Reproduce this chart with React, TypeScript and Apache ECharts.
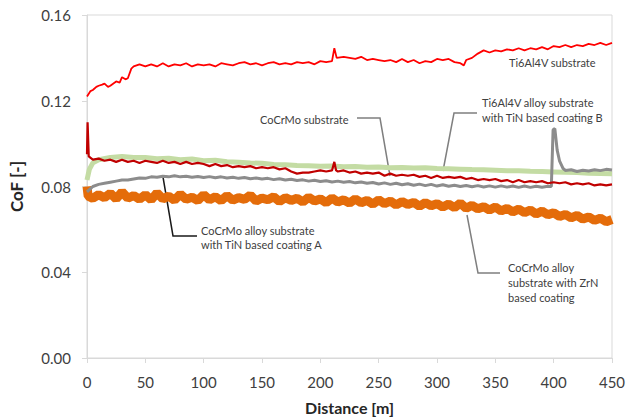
import React, { useEffect, useRef } from "react";
import * as echarts from "echarts";

// x tick labels (distance, m) and y tick labels (CoF)
const xTicks = [0, 50, 100, 150, 200, 250, 300, 350, 400, 450];
const yTicks = ["0.00", "0.04", "0.08", "0.12", "0.16"];

// [distance m, CoF]
const ti6al4vSubstrate: [number, number][] = [
  [0, 0.122], [3, 0.1245], [5, 0.125], [8, 0.1265], [10, 0.127], [13, 0.1275], [15, 0.128], [18, 0.1265], [20, 0.127], [25, 0.129], [28, 0.1285], [30, 0.131], [33, 0.13], [35, 0.1305],
  [38, 0.135], [40, 0.136], [45, 0.137], [50, 0.136], [55, 0.137], [60, 0.136], [65, 0.1375], [70, 0.136], [75, 0.137],
  [80, 0.1365], [85, 0.1375], [90, 0.136], [95, 0.137], [100, 0.1365], [105, 0.137], [110, 0.136], [115, 0.1375],
  [120, 0.137], [125, 0.1365], [130, 0.1375], [135, 0.138], [140, 0.137], [145, 0.1375], [150, 0.1365], [155, 0.1375],
  [160, 0.138], [165, 0.137], [170, 0.1375], [175, 0.137], [180, 0.138], [185, 0.1375], [190, 0.138], [195, 0.137],
  [200, 0.1385], [205, 0.138], [210, 0.1385], [212, 0.1445], [214, 0.14], [220, 0.1405], [225, 0.14], [230, 0.1395],
  [235, 0.1405], [240, 0.139], [245, 0.1395], [250, 0.139], [255, 0.1385], [260, 0.139], [265, 0.138], [270, 0.1395],
  [275, 0.138], [280, 0.139], [285, 0.1375], [290, 0.1385], [295, 0.138], [300, 0.1395], [305, 0.139], [310, 0.1395],
  [315, 0.138], [320, 0.1375], [323, 0.1365], [325, 0.139], [330, 0.14], [335, 0.142], [340, 0.1435], [345, 0.1425],
  [350, 0.1435], [355, 0.143], [360, 0.144], [365, 0.1435], [370, 0.1445], [375, 0.1435], [380, 0.1445], [385, 0.144],
  [390, 0.145], [395, 0.144], [400, 0.1455], [405, 0.145], [410, 0.146], [415, 0.145], [420, 0.146], [425, 0.1455],
  [430, 0.1465], [435, 0.146], [440, 0.147], [445, 0.146], [450, 0.147],
];

const cocrmoCoatingA: [number, number][] = [
  [0, 0.095], [0.5, 0.11], [1.5, 0.094], [5, 0.0925], [10, 0.093], [15, 0.092], [20, 0.0925], [25, 0.0915],
  [30, 0.0925], [35, 0.0915], [40, 0.092], [45, 0.091], [50, 0.092], [55, 0.0915], [60, 0.091], [65, 0.092],
  [70, 0.091], [75, 0.0915], [80, 0.0905], [85, 0.0915], [90, 0.0905], [95, 0.091], [100, 0.0905], [105, 0.0895],
  [110, 0.0905], [115, 0.0895], [120, 0.09], [125, 0.089], [130, 0.0895], [135, 0.089], [140, 0.0895], [145, 0.0885],
  [150, 0.089], [155, 0.0885], [160, 0.089], [165, 0.088], [170, 0.0885], [175, 0.087], [180, 0.086], [185, 0.0865],
  [190, 0.0865], [195, 0.087], [200, 0.0875], [205, 0.087], [210, 0.0875], [212, 0.0915], [213.5, 0.0875], [215, 0.087],
  [220, 0.0875], [225, 0.0865], [230, 0.087], [235, 0.086], [240, 0.0865], [245, 0.086], [250, 0.0865], [255, 0.085],
  [260, 0.086], [265, 0.085], [270, 0.0855], [275, 0.085], [280, 0.0855], [285, 0.0845], [290, 0.085], [295, 0.084],
  [300, 0.085], [305, 0.084], [310, 0.0845], [315, 0.084], [320, 0.0845], [325, 0.0835], [330, 0.084], [335, 0.083],
  [340, 0.0835], [345, 0.083], [350, 0.0835], [355, 0.0825], [360, 0.083], [365, 0.082], [370, 0.083], [375, 0.082],
  [380, 0.0825], [385, 0.082], [390, 0.0825], [395, 0.0815], [400, 0.082], [405, 0.0815], [410, 0.082], [415, 0.081],
  [420, 0.0815], [425, 0.081], [430, 0.0815], [435, 0.0805], [440, 0.081], [445, 0.0805], [450, 0.081],
];

const ti6al4vCoatingB: [number, number][] = [
  [0, 0.083], [2, 0.088], [5, 0.091], [10, 0.0925], [20, 0.0935], [30, 0.094], [40, 0.0935], [50, 0.0935],
  [60, 0.093], [70, 0.0932], [80, 0.0925], [90, 0.0928], [100, 0.092], [110, 0.0922], [120, 0.0915], [130, 0.0913],
  [140, 0.091], [150, 0.0908], [160, 0.0903], [170, 0.0902], [180, 0.0898], [190, 0.0897], [200, 0.0895], [210, 0.0896],
  [220, 0.0892], [230, 0.0893], [240, 0.089], [250, 0.0891], [260, 0.0888], [270, 0.0889], [280, 0.0886], [290, 0.0887],
  [300, 0.0884], [310, 0.0883], [320, 0.0881], [330, 0.0879], [340, 0.0878], [350, 0.0876], [360, 0.0874], [370, 0.0873],
  [380, 0.0871], [390, 0.087], [400, 0.0868], [410, 0.0866], [420, 0.0865], [430, 0.0862], [440, 0.0861], [450, 0.086],
];

const cocrmoSubstrate: [number, number][] = [
  [0, 0.0775], [3, 0.079], [5, 0.08], [10, 0.081], [15, 0.0815], [20, 0.082], [25, 0.0825], [30, 0.083],
  [35, 0.083], [40, 0.0835], [45, 0.084], [50, 0.0838], [55, 0.0845], [60, 0.0843], [65, 0.0848], [70, 0.0845],
  [75, 0.085], [80, 0.0845], [85, 0.0848], [90, 0.0843], [95, 0.0847], [100, 0.0842], [105, 0.0846], [110, 0.0841],
  [115, 0.0845], [120, 0.084], [125, 0.0843], [130, 0.0838], [135, 0.0842], [140, 0.0836], [145, 0.084], [150, 0.0835],
  [155, 0.0838], [160, 0.0832], [165, 0.0836], [170, 0.083], [175, 0.0834], [180, 0.0828], [185, 0.0831], [190, 0.0825],
  [195, 0.0829], [200, 0.0823], [205, 0.0827], [210, 0.0821], [215, 0.0825], [220, 0.082], [225, 0.0823], [230, 0.0817],
  [235, 0.0821], [240, 0.0815], [245, 0.0819], [250, 0.0812], [255, 0.0817], [260, 0.081], [265, 0.0815], [270, 0.0808],
  [275, 0.0813], [280, 0.0806], [285, 0.0811], [290, 0.0804], [295, 0.081], [300, 0.0802], [305, 0.0808], [310, 0.0801],
  [315, 0.0806], [320, 0.08], [325, 0.0805], [330, 0.0799], [335, 0.0804], [340, 0.0798], [345, 0.0803], [350, 0.0797],
  [355, 0.0803], [360, 0.0797], [365, 0.0802], [370, 0.0796], [375, 0.0802], [380, 0.0796], [385, 0.0801], [390, 0.0797],
  [395, 0.0801], [398, 0.08], [399.5, 0.1065], [401, 0.107], [403, 0.097], [405, 0.092], [408, 0.0885], [410, 0.0875],
  [415, 0.0878], [420, 0.087], [425, 0.0876], [430, 0.0872], [435, 0.0878], [440, 0.0874], [445, 0.088], [450, 0.0877],
];

const cocrmoZrN: [number, number][] = [
  [0, 0.08], [1, 0.0755], [5, 0.0745], [10, 0.0762], [15, 0.0748], [20, 0.0768], [25, 0.0742], [30, 0.0775],
  [35, 0.0745], [40, 0.0758], [45, 0.074], [50, 0.0762], [55, 0.0738], [60, 0.077], [65, 0.0742], [70, 0.0755],
  [75, 0.0736], [80, 0.0764], [85, 0.074], [90, 0.075], [95, 0.0735], [100, 0.0762], [105, 0.0738], [110, 0.0752],
  [115, 0.0734], [120, 0.0758], [125, 0.0736], [130, 0.0748], [135, 0.074], [140, 0.076], [145, 0.0732], [150, 0.0746],
  [155, 0.0738], [160, 0.0752], [165, 0.073], [170, 0.0748], [175, 0.0735], [180, 0.0745], [185, 0.0728], [190, 0.075],
  [195, 0.0732], [200, 0.0742], [205, 0.0725], [210, 0.0746], [215, 0.0728], [220, 0.0738], [225, 0.0722], [230, 0.0742],
  [235, 0.0724], [240, 0.0735], [245, 0.0718], [250, 0.0738], [255, 0.072], [260, 0.0732], [265, 0.0714], [270, 0.073],
  [275, 0.0716], [280, 0.0726], [285, 0.0708], [290, 0.0725], [295, 0.071], [300, 0.072], [305, 0.0704], [310, 0.0718],
  [315, 0.0702], [320, 0.0722], [325, 0.0698], [330, 0.0712], [335, 0.0696], [340, 0.0706], [345, 0.069], [350, 0.0704],
  [355, 0.0686], [360, 0.0698], [365, 0.0682], [370, 0.0694], [375, 0.0678], [380, 0.069], [385, 0.0672], [390, 0.0685],
  [395, 0.0668], [400, 0.0678], [405, 0.066], [410, 0.067], [415, 0.0654], [420, 0.0665], [425, 0.0648], [430, 0.0658],
  [435, 0.0642], [440, 0.0652], [445, 0.0636], [450, 0.0646],
];

const FONT = "Lato, 'Open Sans', sans-serif";
const ANN = "#404040";

export default function App() {
  const ref = useRef<HTMLDivElement>(null);
  useEffect(() => {
    document.body.style.margin = "0";
    if (!ref.current) return;
    const chart = echarts.init(ref.current, undefined, { renderer: "svg" });
    const line = (name: string, data: [number, number][], color: string, width: number) => ({
      name,
      type: "line",
      data,
      symbol: "none",
      lineStyle: { color, width },
      itemStyle: { color },
      silent: true,
    });
    const txt = (x: number, y: number, text: string) => ({
      type: "text",
      x,
      y,
      style: { text, fill: ANN, font: `11px ${FONT}`, lineHeight: 15, textVerticalAlign: "middle" },
    });
    const leader = (points: number[][], stroke: string) => ({
      type: "polyline",
      shape: { points },
      style: { stroke, lineWidth: 1.5, fill: null },
    });
    chart.setOption({
      animation: false,
      grid: { left: 85, right: 17, top: 15, bottom: 58, show: true, borderColor: "#d9d9d9", borderWidth: 1 },
      xAxis: {
        type: "value",
        min: 0,
        max: 450,
        interval: 50,
        name: "Distance [m]",
        nameLocation: "middle",
        nameGap: 41,
        nameTextStyle: { fontFamily: FONT, fontSize: 16, fontWeight: "bold", color: "#262626" },
        axisLine: { show: true, lineStyle: { color: "#d9d9d9" } },
        axisTick: { show: true, length: 5, lineStyle: { color: "#d9d9d9" } },
        axisLabel: {
          fontFamily: FONT,
          fontSize: 15,
          color: "#404040",
          margin: 16,
          formatter: (v: number) => (xTicks.includes(v) ? String(v) : ""),
        },
        splitLine: { show: false },
      },
      yAxis: {
        type: "value",
        min: 0,
        max: 0.16,
        interval: 0.04,
        name: "CoF [-]",
        nameLocation: "middle",
        nameGap: 62,
        nameTextStyle: { fontFamily: FONT, fontSize: 17, fontWeight: "bold", color: "#262626" },
        axisLine: { show: true, lineStyle: { color: "#d9d9d9" } },
        axisTick: { show: true, length: 5, lineStyle: { color: "#d9d9d9" } },
        axisLabel: {
          fontFamily: FONT,
          fontSize: 15,
          color: "#404040",
          margin: 16,
          formatter: (v: number) => yTicks[Math.round(v / 0.04)] ?? "",
        },
        splitLine: { show: false },
      },
      series: [
        line("Ti6Al4V alloy substrate with TiN based coating B", ti6al4vCoatingB, "#c4dca4", 5),
        line("CoCrMo alloy substrate with ZrN based coating", cocrmoZrN, "#e46c0a", 9),
        line("CoCrMo substrate", cocrmoSubstrate, "#8c8c8c", 3),
        line("CoCrMo alloy substrate with TiN based coating A", cocrmoCoatingA, "#c00000", 2.2),
        line("Ti6Al4V substrate", ti6al4vSubstrate, "#ff0000", 1.8),
      ],
      graphic: [
        txt(509, 62, "Ti6Al4V substrate"),
        txt(260, 119, "CoCrMo substrate"),
        leader([[357, 118], [380, 118], [390, 176]], "#7f7f7f"),
        txt(482, 102, "Ti6Al4V alloy substrate"),
        txt(482, 117, "with TiN based coating B"),
        leader([[477, 113], [454, 113], [443, 171]], "#7f7f7f"),
        txt(201, 230, "CoCrMo alloy substrate"),
        txt(201, 244, "with TiN based coating A"),
        leader([[197, 236], [173, 236], [163, 177]], "#1a1a1a"),
        txt(508, 267, "CoCrMo alloy"),
        txt(508, 282, "substrate with ZrN"),
        txt(508, 297, "based coating"),
        leader([[500, 273], [478, 273], [467, 215]], "#7f7f7f"),
      ],
    });
    return () => chart.dispose();
  }, []);
  return <div ref={ref} style={{ width: 629, height: 420 }} />;
}
